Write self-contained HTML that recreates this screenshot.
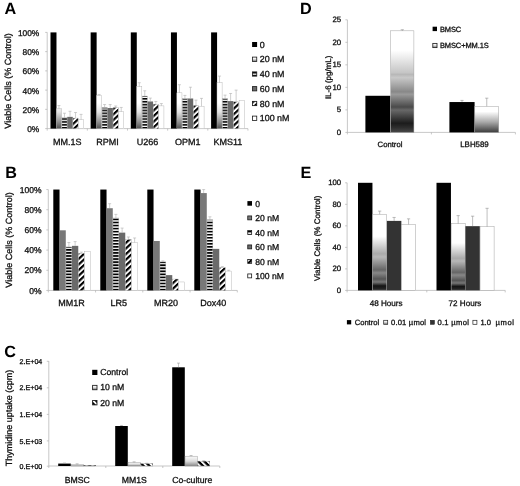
<!DOCTYPE html>
<html><head><meta charset="utf-8"><title>Figure</title>
<style>
html,body{margin:0;padding:0;background:#fff;}
body{width:520px;height:486px;overflow:hidden;}
svg{display:block;filter:blur(0.4px);font-family:'Liberation Sans', sans-serif;}
</style></head>
<body>
<svg width="520" height="486" viewBox="0 0 520 486" style="font-family:'Liberation Sans',sans-serif" text-rendering="geometricPrecision">
<rect width="520" height="486" fill="#fff"/>
<defs>
<pattern id="hs" width="6" height="2.9" patternUnits="userSpaceOnUse" patternTransform="translate(0 2.3)"><rect width="6" height="2.9" fill="#fff"/><rect y="0" width="6" height="1.6" fill="#000"/></pattern>
<pattern id="hsB" width="6" height="3.05" patternUnits="userSpaceOnUse" patternTransform="translate(0 2.05)"><rect width="6" height="3.05" fill="#fff"/><rect y="0" width="6" height="1.7" fill="#000"/></pattern>
<pattern id="ds" width="4.1" height="4.1" patternUnits="userSpaceOnUse" patternTransform="rotate(-43)"><rect width="4.1" height="4.1" fill="#fff"/><rect y="0" width="4.1" height="2.15" fill="#000"/></pattern>
<pattern id="dsC" width="4.2" height="4.2" patternUnits="userSpaceOnUse" patternTransform="rotate(45)"><rect width="4.2" height="4.2" fill="#fff"/><rect y="0" width="4.2" height="2.3" fill="#000"/></pattern>
<linearGradient id="gA" gradientUnits="userSpaceOnUse" x1="0" y1="103" x2="0" y2="128.6"><stop offset="0" stop-color="#fff"/><stop offset="0.35" stop-color="#e2e2e2"/><stop offset="0.7" stop-color="#9a9a9a"/><stop offset="1" stop-color="#505050"/></linearGradient>
<linearGradient id="gD1" x1="0" y1="0" x2="0" y2="1">
<stop offset="0" stop-color="#fff"/><stop offset="0.19" stop-color="#fff"/><stop offset="0.41" stop-color="#c6c6c6"/><stop offset="0.43" stop-color="#b8b8b8"/><stop offset="0.46" stop-color="#c8c8c8"/><stop offset="0.60" stop-color="#888"/><stop offset="0.625" stop-color="#9a9a9a"/><stop offset="0.75" stop-color="#4a4a4a"/><stop offset="0.78" stop-color="#686868"/><stop offset="0.91" stop-color="#1c1c1c"/><stop offset="0.95" stop-color="#2c2c2c"/><stop offset="1" stop-color="#484848"/></linearGradient>
<linearGradient id="gD2" x1="0" y1="0" x2="0" y2="1"><stop offset="0" stop-color="#fff"/><stop offset="0.2" stop-color="#fff"/><stop offset="0.6" stop-color="#aaa"/><stop offset="1" stop-color="#3c3c3c"/></linearGradient>
<linearGradient id="gE" x1="0" y1="0" x2="0" y2="1">
<stop offset="0" stop-color="#fff"/><stop offset="0.29" stop-color="#fff"/><stop offset="0.52" stop-color="#aaa"/><stop offset="0.56" stop-color="#b8b8b8"/><stop offset="0.73" stop-color="#666"/><stop offset="0.77" stop-color="#888"/><stop offset="0.85" stop-color="#555"/><stop offset="0.89" stop-color="#777"/><stop offset="0.94" stop-color="#141414"/><stop offset="0.975" stop-color="#222"/><stop offset="1" stop-color="#444"/></linearGradient>
<linearGradient id="gL" x1="0" y1="0" x2="0" y2="1"><stop offset="0" stop-color="#fff"/><stop offset="0.4" stop-color="#eee"/><stop offset="1" stop-color="#777"/></linearGradient>
<linearGradient id="gC" x1="0" y1="0" x2="0" y2="1"><stop offset="0" stop-color="#fbfbfb"/><stop offset="0.5" stop-color="#ddd"/><stop offset="1" stop-color="#8a8a8a"/></linearGradient>
</defs>
<text x="4.4" y="14.2" font-size="16.2" text-anchor="start" font-weight="bold" fill="#000" stroke="#000" stroke-width="0" >A</text>
<line x1="47.20" y1="32.40" x2="47.20" y2="128.60" stroke="#b0b0b0" stroke-width="0.7"/>
<line x1="47.20" y1="128.60" x2="247.95" y2="128.60" stroke="#b0b0b0" stroke-width="0.7"/>
<line x1="45.20" y1="128.60" x2="47.20" y2="128.60" stroke="#b0b0b0" stroke-width="0.7"/>
<text x="39.3" y="132.1" font-size="8.4" text-anchor="end" font-weight="normal" fill="#111" stroke="#111" stroke-width="0.3" >0%</text>
<line x1="45.20" y1="109.36" x2="47.20" y2="109.36" stroke="#b0b0b0" stroke-width="0.7"/>
<text x="39.3" y="112.86" font-size="8.4" text-anchor="end" font-weight="normal" fill="#111" stroke="#111" stroke-width="0.3" >20%</text>
<line x1="45.20" y1="90.12" x2="47.20" y2="90.12" stroke="#b0b0b0" stroke-width="0.7"/>
<text x="39.3" y="93.62" font-size="8.4" text-anchor="end" font-weight="normal" fill="#111" stroke="#111" stroke-width="0.3" >40%</text>
<line x1="45.20" y1="70.88" x2="47.20" y2="70.88" stroke="#b0b0b0" stroke-width="0.7"/>
<text x="39.3" y="74.38" font-size="8.4" text-anchor="end" font-weight="normal" fill="#111" stroke="#111" stroke-width="0.3" >60%</text>
<line x1="45.20" y1="51.64" x2="47.20" y2="51.64" stroke="#b0b0b0" stroke-width="0.7"/>
<text x="39.3" y="55.14" font-size="8.4" text-anchor="end" font-weight="normal" fill="#111" stroke="#111" stroke-width="0.3" >80%</text>
<line x1="45.20" y1="32.40" x2="47.20" y2="32.40" stroke="#b0b0b0" stroke-width="0.7"/>
<text x="39.3" y="35.900000000000006" font-size="8.4" text-anchor="end" font-weight="normal" fill="#111" stroke="#111" stroke-width="0.3" >100%</text>
<line x1="47.20" y1="128.60" x2="47.20" y2="130.60" stroke="#b0b0b0" stroke-width="0.7"/>
<line x1="87.35" y1="128.60" x2="87.35" y2="130.60" stroke="#b0b0b0" stroke-width="0.7"/>
<line x1="127.50" y1="128.60" x2="127.50" y2="130.60" stroke="#b0b0b0" stroke-width="0.7"/>
<line x1="167.65" y1="128.60" x2="167.65" y2="130.60" stroke="#b0b0b0" stroke-width="0.7"/>
<line x1="207.80" y1="128.60" x2="207.80" y2="130.60" stroke="#b0b0b0" stroke-width="0.7"/>
<line x1="247.95" y1="128.60" x2="247.95" y2="130.60" stroke="#b0b0b0" stroke-width="0.7"/>
<text x="11.0" y="81" font-size="9" text-anchor="middle" font-weight="normal" fill="#111" stroke="#111" stroke-width="0.3" transform="rotate(-90 11.0 81)" >Viable Cells (% Control)</text>
<rect x="50.50" y="32.40" width="5.98" height="96.20" fill="#000"/>
<rect x="56.38" y="108.78" width="5.13" height="19.82" fill="url(#gA)" stroke="#aaa" stroke-width="0.4"/>
<line x1="58.95" y1="108.78" x2="58.95" y2="105.51" stroke="#a8a8a8" stroke-width="0.55"/>
<line x1="57.45" y1="105.51" x2="60.45" y2="105.51" stroke="#a8a8a8" stroke-width="0.55"/>
<rect x="61.91" y="117.73" width="5.13" height="10.87" fill="url(#hs)" stroke="#aaa" stroke-width="0.4"/>
<line x1="64.48" y1="117.73" x2="64.48" y2="113.21" stroke="#a8a8a8" stroke-width="0.55"/>
<line x1="62.98" y1="113.21" x2="65.98" y2="113.21" stroke="#a8a8a8" stroke-width="0.55"/>
<rect x="67.24" y="116.86" width="5.53" height="11.74" fill="#6a6a6a"/>
<line x1="70.01" y1="116.86" x2="70.01" y2="111.28" stroke="#a8a8a8" stroke-width="0.55"/>
<line x1="68.51" y1="111.28" x2="71.51" y2="111.28" stroke="#a8a8a8" stroke-width="0.55"/>
<rect x="72.97" y="118.11" width="5.13" height="10.49" fill="url(#ds)" stroke="#aaa" stroke-width="0.4"/>
<line x1="75.54" y1="118.11" x2="75.54" y2="112.53" stroke="#a8a8a8" stroke-width="0.55"/>
<line x1="74.04" y1="112.53" x2="77.04" y2="112.53" stroke="#a8a8a8" stroke-width="0.55"/>
<rect x="78.50" y="119.75" width="5.13" height="8.85" fill="#fff" stroke="#aaa" stroke-width="0.4"/>
<line x1="81.07" y1="119.75" x2="81.07" y2="114.36" stroke="#a8a8a8" stroke-width="0.55"/>
<line x1="79.57" y1="114.36" x2="82.57" y2="114.36" stroke="#a8a8a8" stroke-width="0.55"/>
<text x="67.275" y="145.3" font-size="9" text-anchor="middle" font-weight="normal" fill="#111" stroke="#111" stroke-width="0.3" >MM.1S</text>
<rect x="90.65" y="32.40" width="5.98" height="96.20" fill="#000"/>
<rect x="96.53" y="95.51" width="5.13" height="33.09" fill="url(#gA)" stroke="#aaa" stroke-width="0.4"/>
<line x1="99.09" y1="95.51" x2="99.09" y2="94.45" stroke="#a8a8a8" stroke-width="0.55"/>
<line x1="97.59" y1="94.45" x2="100.59" y2="94.45" stroke="#a8a8a8" stroke-width="0.55"/>
<rect x="102.06" y="107.63" width="5.13" height="20.97" fill="url(#hs)" stroke="#aaa" stroke-width="0.4"/>
<line x1="104.62" y1="107.63" x2="104.62" y2="104.55" stroke="#a8a8a8" stroke-width="0.55"/>
<line x1="103.12" y1="104.55" x2="106.12" y2="104.55" stroke="#a8a8a8" stroke-width="0.55"/>
<rect x="107.39" y="108.01" width="5.53" height="20.59" fill="#6a6a6a"/>
<line x1="110.16" y1="108.01" x2="110.16" y2="104.55" stroke="#a8a8a8" stroke-width="0.55"/>
<line x1="108.66" y1="104.55" x2="111.66" y2="104.55" stroke="#a8a8a8" stroke-width="0.55"/>
<rect x="113.12" y="107.63" width="5.13" height="20.97" fill="url(#ds)" stroke="#aaa" stroke-width="0.4"/>
<line x1="115.69" y1="107.63" x2="115.69" y2="105.99" stroke="#a8a8a8" stroke-width="0.55"/>
<line x1="114.19" y1="105.99" x2="117.19" y2="105.99" stroke="#a8a8a8" stroke-width="0.55"/>
<rect x="118.65" y="111.77" width="5.13" height="16.83" fill="#fff" stroke="#aaa" stroke-width="0.4"/>
<line x1="121.22" y1="111.77" x2="121.22" y2="107.44" stroke="#a8a8a8" stroke-width="0.55"/>
<line x1="119.72" y1="107.44" x2="122.72" y2="107.44" stroke="#a8a8a8" stroke-width="0.55"/>
<text x="107.425" y="145.3" font-size="9" text-anchor="middle" font-weight="normal" fill="#111" stroke="#111" stroke-width="0.3" >RPMI</text>
<rect x="130.80" y="32.40" width="5.98" height="96.20" fill="#000"/>
<rect x="136.68" y="86.75" width="5.13" height="41.85" fill="url(#gA)" stroke="#aaa" stroke-width="0.4"/>
<line x1="139.24" y1="86.75" x2="139.24" y2="82.71" stroke="#a8a8a8" stroke-width="0.55"/>
<line x1="137.74" y1="82.71" x2="140.74" y2="82.71" stroke="#a8a8a8" stroke-width="0.55"/>
<rect x="142.21" y="96.08" width="5.13" height="32.52" fill="url(#hs)" stroke="#aaa" stroke-width="0.4"/>
<line x1="144.77" y1="96.08" x2="144.77" y2="90.79" stroke="#a8a8a8" stroke-width="0.55"/>
<line x1="143.27" y1="90.79" x2="146.27" y2="90.79" stroke="#a8a8a8" stroke-width="0.55"/>
<rect x="147.54" y="101.47" width="5.53" height="27.13" fill="#6a6a6a"/>
<line x1="150.30" y1="101.47" x2="150.30" y2="98.10" stroke="#a8a8a8" stroke-width="0.55"/>
<line x1="148.80" y1="98.10" x2="151.80" y2="98.10" stroke="#a8a8a8" stroke-width="0.55"/>
<rect x="153.27" y="104.17" width="5.13" height="24.43" fill="url(#ds)" stroke="#aaa" stroke-width="0.4"/>
<line x1="155.83" y1="104.17" x2="155.83" y2="101.47" stroke="#a8a8a8" stroke-width="0.55"/>
<line x1="154.33" y1="101.47" x2="157.33" y2="101.47" stroke="#a8a8a8" stroke-width="0.55"/>
<rect x="158.80" y="105.90" width="5.13" height="22.70" fill="#fff" stroke="#aaa" stroke-width="0.4"/>
<line x1="161.36" y1="105.90" x2="161.36" y2="103.59" stroke="#a8a8a8" stroke-width="0.55"/>
<line x1="159.86" y1="103.59" x2="162.86" y2="103.59" stroke="#a8a8a8" stroke-width="0.55"/>
<text x="147.575" y="145.3" font-size="9" text-anchor="middle" font-weight="normal" fill="#111" stroke="#111" stroke-width="0.3" >U266</text>
<rect x="170.95" y="32.40" width="5.98" height="96.20" fill="#000"/>
<rect x="176.83" y="92.81" width="5.13" height="35.79" fill="url(#gA)" stroke="#aaa" stroke-width="0.4"/>
<line x1="179.39" y1="92.81" x2="179.39" y2="84.73" stroke="#a8a8a8" stroke-width="0.55"/>
<line x1="177.89" y1="84.73" x2="180.89" y2="84.73" stroke="#a8a8a8" stroke-width="0.55"/>
<rect x="182.36" y="98.78" width="5.13" height="29.82" fill="url(#hs)" stroke="#aaa" stroke-width="0.4"/>
<line x1="184.92" y1="98.78" x2="184.92" y2="95.41" stroke="#a8a8a8" stroke-width="0.55"/>
<line x1="183.42" y1="95.41" x2="186.42" y2="95.41" stroke="#a8a8a8" stroke-width="0.55"/>
<rect x="187.69" y="98.49" width="5.53" height="30.11" fill="#6a6a6a"/>
<line x1="190.45" y1="98.49" x2="190.45" y2="87.23" stroke="#a8a8a8" stroke-width="0.55"/>
<line x1="188.95" y1="87.23" x2="191.95" y2="87.23" stroke="#a8a8a8" stroke-width="0.55"/>
<rect x="193.42" y="105.51" width="5.13" height="23.09" fill="url(#ds)" stroke="#aaa" stroke-width="0.4"/>
<line x1="195.98" y1="105.51" x2="195.98" y2="100.12" stroke="#a8a8a8" stroke-width="0.55"/>
<line x1="194.48" y1="100.12" x2="197.48" y2="100.12" stroke="#a8a8a8" stroke-width="0.55"/>
<rect x="198.95" y="106.19" width="5.13" height="22.41" fill="#fff" stroke="#aaa" stroke-width="0.4"/>
<line x1="201.51" y1="106.19" x2="201.51" y2="98.39" stroke="#a8a8a8" stroke-width="0.55"/>
<line x1="200.01" y1="98.39" x2="203.01" y2="98.39" stroke="#a8a8a8" stroke-width="0.55"/>
<text x="187.72499999999997" y="145.3" font-size="9" text-anchor="middle" font-weight="normal" fill="#111" stroke="#111" stroke-width="0.3" >OPM1</text>
<rect x="211.10" y="32.40" width="5.98" height="96.20" fill="#000"/>
<rect x="216.98" y="82.71" width="5.13" height="45.89" fill="url(#gA)" stroke="#aaa" stroke-width="0.4"/>
<line x1="219.54" y1="82.71" x2="219.54" y2="76.07" stroke="#a8a8a8" stroke-width="0.55"/>
<line x1="218.04" y1="76.07" x2="221.04" y2="76.07" stroke="#a8a8a8" stroke-width="0.55"/>
<rect x="222.51" y="98.78" width="5.13" height="29.82" fill="url(#hs)" stroke="#aaa" stroke-width="0.4"/>
<line x1="225.07" y1="98.78" x2="225.07" y2="95.12" stroke="#a8a8a8" stroke-width="0.55"/>
<line x1="223.57" y1="95.12" x2="226.57" y2="95.12" stroke="#a8a8a8" stroke-width="0.55"/>
<rect x="227.84" y="101.09" width="5.53" height="27.51" fill="#6a6a6a"/>
<line x1="230.60" y1="101.09" x2="230.60" y2="93.49" stroke="#a8a8a8" stroke-width="0.55"/>
<line x1="229.10" y1="93.49" x2="232.10" y2="93.49" stroke="#a8a8a8" stroke-width="0.55"/>
<rect x="233.57" y="101.86" width="5.13" height="26.74" fill="url(#ds)" stroke="#aaa" stroke-width="0.4"/>
<line x1="236.13" y1="101.86" x2="236.13" y2="90.12" stroke="#a8a8a8" stroke-width="0.55"/>
<line x1="234.63" y1="90.12" x2="237.63" y2="90.12" stroke="#a8a8a8" stroke-width="0.55"/>
<rect x="239.10" y="100.51" width="5.13" height="28.09" fill="#fff" stroke="#aaa" stroke-width="0.4"/>
<text x="227.875" y="145.3" font-size="9" text-anchor="middle" font-weight="normal" fill="#111" stroke="#111" stroke-width="0.3" >KMS11</text>
<rect x="252.10" y="42.00" width="5.00" height="5.00" fill="#000"/>
<text x="259.8" y="47.65" font-size="8.9" text-anchor="start" font-weight="normal" fill="#111" stroke="#111" stroke-width="0.3" >0</text>
<rect x="252.45" y="57.10" width="4.30" height="4.30" fill="url(#gL)" stroke="#1a1a1a" stroke-width="0.8"/>
<text x="259.8" y="62.4" font-size="8.9" text-anchor="start" font-weight="normal" fill="#111" stroke="#111" stroke-width="0.3" >20 nM</text>
<rect x="252.45" y="71.85" width="4.30" height="4.30" fill="url(#hs)" stroke="#1a1a1a" stroke-width="0.8"/>
<text x="259.8" y="77.15" font-size="8.9" text-anchor="start" font-weight="normal" fill="#111" stroke="#111" stroke-width="0.3" >40 nM</text>
<rect x="252.45" y="86.60" width="4.30" height="4.30" fill="#6a6a6a" stroke="#1a1a1a" stroke-width="0.8"/>
<text x="259.8" y="91.9" font-size="8.9" text-anchor="start" font-weight="normal" fill="#111" stroke="#111" stroke-width="0.3" >60 nM</text>
<rect x="252.45" y="101.35" width="4.30" height="4.30" fill="url(#ds)" stroke="#1a1a1a" stroke-width="0.8"/>
<text x="259.8" y="106.65" font-size="8.9" text-anchor="start" font-weight="normal" fill="#111" stroke="#111" stroke-width="0.3" >80 nM</text>
<rect x="252.45" y="116.10" width="4.30" height="4.30" fill="#fff" stroke="#1a1a1a" stroke-width="0.8"/>
<text x="259.8" y="121.4" font-size="8.9" text-anchor="start" font-weight="normal" fill="#111" stroke="#111" stroke-width="0.3" >100 nM</text>
<text x="5.2" y="177.7" font-size="16.2" text-anchor="start" font-weight="bold" fill="#000" stroke="#000" stroke-width="0" >B</text>
<line x1="48.30" y1="189.55" x2="48.30" y2="290.45" stroke="#b0b0b0" stroke-width="0.7"/>
<line x1="48.30" y1="290.45" x2="237.30" y2="290.45" stroke="#b0b0b0" stroke-width="0.7"/>
<line x1="46.30" y1="290.45" x2="48.30" y2="290.45" stroke="#b0b0b0" stroke-width="0.7"/>
<text x="41.6" y="293.5" font-size="8.5" text-anchor="end" font-weight="normal" fill="#111" stroke="#111" stroke-width="0.3" >0%</text>
<line x1="46.30" y1="270.27" x2="48.30" y2="270.27" stroke="#b0b0b0" stroke-width="0.7"/>
<text x="41.6" y="273.32" font-size="8.5" text-anchor="end" font-weight="normal" fill="#111" stroke="#111" stroke-width="0.3" >20%</text>
<line x1="46.30" y1="250.09" x2="48.30" y2="250.09" stroke="#b0b0b0" stroke-width="0.7"/>
<text x="41.6" y="253.14000000000001" font-size="8.5" text-anchor="end" font-weight="normal" fill="#111" stroke="#111" stroke-width="0.3" >40%</text>
<line x1="46.30" y1="229.91" x2="48.30" y2="229.91" stroke="#b0b0b0" stroke-width="0.7"/>
<text x="41.6" y="232.96000000000004" font-size="8.5" text-anchor="end" font-weight="normal" fill="#111" stroke="#111" stroke-width="0.3" >60%</text>
<line x1="46.30" y1="209.73" x2="48.30" y2="209.73" stroke="#b0b0b0" stroke-width="0.7"/>
<text x="41.6" y="212.78000000000003" font-size="8.5" text-anchor="end" font-weight="normal" fill="#111" stroke="#111" stroke-width="0.3" >80%</text>
<line x1="46.30" y1="189.55" x2="48.30" y2="189.55" stroke="#b0b0b0" stroke-width="0.7"/>
<text x="41.6" y="192.60000000000002" font-size="8.5" text-anchor="end" font-weight="normal" fill="#111" stroke="#111" stroke-width="0.3" >100%</text>
<line x1="48.30" y1="290.45" x2="48.30" y2="292.45" stroke="#b0b0b0" stroke-width="0.7"/>
<line x1="95.55" y1="290.45" x2="95.55" y2="292.45" stroke="#b0b0b0" stroke-width="0.7"/>
<line x1="142.80" y1="290.45" x2="142.80" y2="292.45" stroke="#b0b0b0" stroke-width="0.7"/>
<line x1="190.05" y1="290.45" x2="190.05" y2="292.45" stroke="#b0b0b0" stroke-width="0.7"/>
<line x1="237.30" y1="290.45" x2="237.30" y2="292.45" stroke="#b0b0b0" stroke-width="0.7"/>
<text x="11.7" y="240" font-size="9" text-anchor="middle" font-weight="normal" fill="#111" stroke="#111" stroke-width="0.3" transform="rotate(-90 11.7 240)" >Viable Cells (% Control)</text>
<rect x="53.30" y="189.55" width="6.24" height="100.90" fill="#000"/>
<rect x="59.54" y="230.31" width="6.24" height="60.14" fill="#787878"/>
<rect x="65.98" y="246.96" width="5.84" height="43.49" fill="url(#hsB)" stroke="#aaa" stroke-width="0.4"/>
<line x1="68.90" y1="246.96" x2="68.90" y2="242.52" stroke="#a8a8a8" stroke-width="0.55"/>
<line x1="67.40" y1="242.52" x2="70.40" y2="242.52" stroke="#a8a8a8" stroke-width="0.55"/>
<rect x="72.02" y="245.85" width="6.24" height="44.60" fill="#6a6a6a"/>
<line x1="75.14" y1="245.85" x2="75.14" y2="241.61" stroke="#a8a8a8" stroke-width="0.55"/>
<line x1="73.64" y1="241.61" x2="76.64" y2="241.61" stroke="#a8a8a8" stroke-width="0.55"/>
<rect x="78.46" y="253.32" width="5.84" height="37.13" fill="url(#ds)" stroke="#aaa" stroke-width="0.4"/>
<line x1="81.38" y1="253.32" x2="81.38" y2="252.11" stroke="#a8a8a8" stroke-width="0.55"/>
<line x1="79.88" y1="252.11" x2="82.88" y2="252.11" stroke="#a8a8a8" stroke-width="0.55"/>
<rect x="84.70" y="251.30" width="5.84" height="39.15" fill="#fff" stroke="#aaa" stroke-width="0.4"/>
<text x="71.425" y="306.2" font-size="9.0" text-anchor="middle" font-weight="normal" fill="#111" stroke="#111" stroke-width="0.3" >MM1R</text>
<rect x="100.30" y="189.55" width="6.24" height="100.90" fill="#000"/>
<rect x="106.54" y="208.22" width="6.24" height="82.23" fill="#787878"/>
<line x1="109.66" y1="208.22" x2="109.66" y2="203.68" stroke="#a8a8a8" stroke-width="0.55"/>
<line x1="108.16" y1="203.68" x2="111.16" y2="203.68" stroke="#a8a8a8" stroke-width="0.55"/>
<rect x="112.98" y="218.00" width="5.84" height="72.45" fill="url(#hsB)" stroke="#aaa" stroke-width="0.4"/>
<line x1="115.90" y1="218.00" x2="115.90" y2="214.37" stroke="#a8a8a8" stroke-width="0.55"/>
<line x1="114.40" y1="214.37" x2="117.40" y2="214.37" stroke="#a8a8a8" stroke-width="0.55"/>
<rect x="119.02" y="232.63" width="6.24" height="57.82" fill="#6a6a6a"/>
<line x1="122.14" y1="232.63" x2="122.14" y2="228.09" stroke="#a8a8a8" stroke-width="0.55"/>
<line x1="120.64" y1="228.09" x2="123.64" y2="228.09" stroke="#a8a8a8" stroke-width="0.55"/>
<rect x="125.46" y="239.50" width="5.84" height="50.95" fill="url(#ds)" stroke="#aaa" stroke-width="0.4"/>
<line x1="128.38" y1="239.50" x2="128.38" y2="236.97" stroke="#a8a8a8" stroke-width="0.55"/>
<line x1="126.88" y1="236.97" x2="129.88" y2="236.97" stroke="#a8a8a8" stroke-width="0.55"/>
<rect x="131.70" y="242.52" width="5.84" height="47.93" fill="#fff" stroke="#aaa" stroke-width="0.4"/>
<line x1="134.62" y1="242.52" x2="134.62" y2="237.98" stroke="#a8a8a8" stroke-width="0.55"/>
<line x1="133.12" y1="237.98" x2="136.12" y2="237.98" stroke="#a8a8a8" stroke-width="0.55"/>
<text x="118.675" y="306.2" font-size="9.0" text-anchor="middle" font-weight="normal" fill="#111" stroke="#111" stroke-width="0.3" >LR5</text>
<rect x="147.30" y="189.55" width="6.24" height="100.90" fill="#000"/>
<rect x="153.54" y="241.01" width="6.24" height="49.44" fill="#787878"/>
<rect x="159.98" y="261.90" width="5.84" height="28.55" fill="url(#hsB)" stroke="#aaa" stroke-width="0.4"/>
<line x1="162.90" y1="261.90" x2="162.90" y2="260.89" stroke="#a8a8a8" stroke-width="0.55"/>
<line x1="161.40" y1="260.89" x2="164.40" y2="260.89" stroke="#a8a8a8" stroke-width="0.55"/>
<rect x="166.02" y="275.11" width="6.24" height="15.34" fill="#6a6a6a"/>
<rect x="172.46" y="279.05" width="5.84" height="11.40" fill="url(#ds)" stroke="#aaa" stroke-width="0.4"/>
<rect x="178.70" y="281.97" width="5.84" height="8.48" fill="#fff" stroke="#aaa" stroke-width="0.4"/>
<text x="165.925" y="306.2" font-size="9.0" text-anchor="middle" font-weight="normal" fill="#111" stroke="#111" stroke-width="0.3" >MR20</text>
<rect x="194.30" y="189.55" width="6.24" height="100.90" fill="#000"/>
<rect x="200.54" y="193.08" width="6.24" height="97.37" fill="#787878"/>
<line x1="203.66" y1="193.08" x2="203.66" y2="189.55" stroke="#a8a8a8" stroke-width="0.55"/>
<line x1="202.16" y1="189.55" x2="205.16" y2="189.55" stroke="#a8a8a8" stroke-width="0.55"/>
<rect x="206.98" y="219.82" width="5.84" height="70.63" fill="url(#hsB)" stroke="#aaa" stroke-width="0.4"/>
<line x1="209.90" y1="219.82" x2="209.90" y2="216.79" stroke="#a8a8a8" stroke-width="0.55"/>
<line x1="208.40" y1="216.79" x2="211.40" y2="216.79" stroke="#a8a8a8" stroke-width="0.55"/>
<rect x="213.02" y="248.88" width="6.24" height="41.57" fill="#6a6a6a"/>
<rect x="219.46" y="267.65" width="5.84" height="22.80" fill="url(#ds)" stroke="#aaa" stroke-width="0.4"/>
<line x1="222.38" y1="267.65" x2="222.38" y2="266.64" stroke="#a8a8a8" stroke-width="0.55"/>
<line x1="220.88" y1="266.64" x2="223.88" y2="266.64" stroke="#a8a8a8" stroke-width="0.55"/>
<rect x="225.70" y="271.08" width="5.84" height="19.37" fill="#fff" stroke="#aaa" stroke-width="0.4"/>
<line x1="228.62" y1="271.08" x2="228.62" y2="270.27" stroke="#a8a8a8" stroke-width="0.55"/>
<line x1="227.12" y1="270.27" x2="230.12" y2="270.27" stroke="#a8a8a8" stroke-width="0.55"/>
<text x="213.175" y="306.2" font-size="9.0" text-anchor="middle" font-weight="normal" fill="#111" stroke="#111" stroke-width="0.3" >Dox40</text>
<rect x="247.40" y="201.10" width="4.60" height="4.60" fill="#000"/>
<text x="255.3" y="206.5" font-size="8.6" text-anchor="start" font-weight="normal" fill="#111" stroke="#111" stroke-width="0.3" >0</text>
<rect x="247.75" y="215.95" width="3.90" height="3.90" fill="#787878" stroke="#1a1a1a" stroke-width="0.8"/>
<text x="255.3" y="221.0" font-size="8.6" text-anchor="start" font-weight="normal" fill="#111" stroke="#111" stroke-width="0.3" >20 nM</text>
<rect x="247.75" y="230.45" width="3.90" height="3.90" fill="url(#hsB)" stroke="#1a1a1a" stroke-width="0.8"/>
<text x="255.3" y="235.5" font-size="8.6" text-anchor="start" font-weight="normal" fill="#111" stroke="#111" stroke-width="0.3" >40 nM</text>
<rect x="247.75" y="244.95" width="3.90" height="3.90" fill="#6a6a6a" stroke="#1a1a1a" stroke-width="0.8"/>
<text x="255.3" y="250.0" font-size="8.6" text-anchor="start" font-weight="normal" fill="#111" stroke="#111" stroke-width="0.3" >60 nM</text>
<rect x="247.75" y="259.45" width="3.90" height="3.90" fill="url(#ds)" stroke="#1a1a1a" stroke-width="0.8"/>
<text x="255.3" y="264.5" font-size="8.6" text-anchor="start" font-weight="normal" fill="#111" stroke="#111" stroke-width="0.3" >80 nM</text>
<rect x="247.75" y="273.95" width="3.90" height="3.90" fill="#fff" stroke="#1a1a1a" stroke-width="0.8"/>
<text x="255.3" y="279.0" font-size="8.6" text-anchor="start" font-weight="normal" fill="#111" stroke="#111" stroke-width="0.3" >100 nM</text>
<text x="4.2" y="356.5" font-size="16.2" text-anchor="start" font-weight="bold" fill="#000" stroke="#000" stroke-width="0" >C</text>
<line x1="48.80" y1="361.00" x2="48.80" y2="466.00" stroke="#b0b0b0" stroke-width="0.7"/>
<line x1="48.80" y1="466.00" x2="219.80" y2="466.00" stroke="#b0b0b0" stroke-width="0.7"/>
<line x1="46.80" y1="466.20" x2="48.80" y2="466.20" stroke="#b0b0b0" stroke-width="0.7"/>
<text x="42.3" y="468.8" font-size="7.1" text-anchor="end" font-weight="normal" fill="#111" stroke="#111" stroke-width="0.3" >0.E+00</text>
<line x1="46.80" y1="440.90" x2="48.80" y2="440.90" stroke="#b0b0b0" stroke-width="0.7"/>
<text x="42.3" y="443.5" font-size="7.1" text-anchor="end" font-weight="normal" fill="#111" stroke="#111" stroke-width="0.3" >5.E+03</text>
<line x1="46.80" y1="414.40" x2="48.80" y2="414.40" stroke="#b0b0b0" stroke-width="0.7"/>
<text x="42.3" y="417.0" font-size="7.1" text-anchor="end" font-weight="normal" fill="#111" stroke="#111" stroke-width="0.3" >1.E+04</text>
<line x1="46.80" y1="387.80" x2="48.80" y2="387.80" stroke="#b0b0b0" stroke-width="0.7"/>
<text x="42.3" y="390.40000000000003" font-size="7.1" text-anchor="end" font-weight="normal" fill="#111" stroke="#111" stroke-width="0.3" >2.E+04</text>
<line x1="46.80" y1="361.30" x2="48.80" y2="361.30" stroke="#b0b0b0" stroke-width="0.7"/>
<text x="42.3" y="363.90000000000003" font-size="7.1" text-anchor="end" font-weight="normal" fill="#111" stroke="#111" stroke-width="0.3" >2.E+04</text>
<line x1="48.80" y1="466.00" x2="48.80" y2="468.00" stroke="#b0b0b0" stroke-width="0.7"/>
<line x1="105.80" y1="466.00" x2="105.80" y2="468.00" stroke="#b0b0b0" stroke-width="0.7"/>
<line x1="162.80" y1="466.00" x2="162.80" y2="468.00" stroke="#b0b0b0" stroke-width="0.7"/>
<line x1="219.80" y1="466.00" x2="219.80" y2="468.00" stroke="#b0b0b0" stroke-width="0.7"/>
<text x="12.2" y="418" font-size="9" text-anchor="middle" font-weight="normal" fill="#111" stroke="#111" stroke-width="0.3" transform="rotate(-90 12.2 418)" >Thymidine uptake (cpm)</text>
<rect x="58.20" y="463.58" width="12.60" height="2.42" fill="#000"/>
<line x1="64.50" y1="463.58" x2="64.50" y2="463.06" stroke="#999" stroke-width="0.55"/>
<line x1="63.00" y1="463.06" x2="66.00" y2="463.06" stroke="#999" stroke-width="0.55"/>
<rect x="71.00" y="464.43" width="12.20" height="1.57" fill="url(#gC)" stroke="#888" stroke-width="0.4"/>
<line x1="77.10" y1="464.43" x2="77.10" y2="463.80" stroke="#999" stroke-width="0.55"/>
<line x1="75.60" y1="463.80" x2="78.60" y2="463.80" stroke="#999" stroke-width="0.55"/>
<rect x="83.60" y="465.21" width="12.20" height="0.79" fill="url(#dsC)" stroke="#888" stroke-width="0.4"/>
<text x="77.3" y="483.4" font-size="8.7" text-anchor="middle" font-weight="normal" fill="#111" stroke="#111" stroke-width="0.3" >BMSC</text>
<rect x="115.20" y="426.00" width="12.60" height="40.00" fill="#000"/>
<line x1="121.50" y1="426.00" x2="121.50" y2="425.47" stroke="#999" stroke-width="0.55"/>
<line x1="120.00" y1="425.47" x2="123.00" y2="425.47" stroke="#999" stroke-width="0.55"/>
<rect x="128.00" y="462.43" width="12.20" height="3.57" fill="url(#gC)" stroke="#888" stroke-width="0.4"/>
<line x1="134.10" y1="462.43" x2="134.10" y2="461.80" stroke="#999" stroke-width="0.55"/>
<line x1="132.60" y1="461.80" x2="135.60" y2="461.80" stroke="#999" stroke-width="0.55"/>
<rect x="140.60" y="463.69" width="12.20" height="2.31" fill="url(#dsC)" stroke="#888" stroke-width="0.4"/>
<line x1="146.70" y1="463.69" x2="146.70" y2="463.27" stroke="#999" stroke-width="0.55"/>
<line x1="145.20" y1="463.27" x2="148.20" y2="463.27" stroke="#999" stroke-width="0.55"/>
<text x="134.3" y="483.4" font-size="8.7" text-anchor="middle" font-weight="normal" fill="#111" stroke="#111" stroke-width="0.3" >MM1S</text>
<rect x="172.20" y="367.30" width="12.60" height="98.70" fill="#000"/>
<line x1="178.50" y1="367.30" x2="178.50" y2="363.10" stroke="#999" stroke-width="0.55"/>
<line x1="177.00" y1="363.10" x2="180.00" y2="363.10" stroke="#999" stroke-width="0.55"/>
<rect x="185.00" y="456.18" width="12.20" height="9.82" fill="url(#gC)" stroke="#888" stroke-width="0.4"/>
<line x1="191.10" y1="456.18" x2="191.10" y2="455.50" stroke="#999" stroke-width="0.55"/>
<line x1="189.60" y1="455.50" x2="192.60" y2="455.50" stroke="#999" stroke-width="0.55"/>
<rect x="197.60" y="461.17" width="12.20" height="4.83" fill="url(#dsC)" stroke="#888" stroke-width="0.4"/>
<line x1="203.70" y1="461.17" x2="203.70" y2="460.75" stroke="#999" stroke-width="0.55"/>
<line x1="202.20" y1="460.75" x2="205.20" y2="460.75" stroke="#999" stroke-width="0.55"/>
<text x="192.3" y="483.4" font-size="8.7" text-anchor="middle" font-weight="normal" fill="#111" stroke="#111" stroke-width="0.3" >Co-culture</text>
<rect x="92.20" y="369.80" width="5.20" height="5.20" fill="#000"/>
<text x="100.2" y="375.25" font-size="8.7" text-anchor="start" font-weight="normal" fill="#111" stroke="#111" stroke-width="0.3" >Control</text>
<rect x="92.60" y="385.35" width="4.40" height="4.40" fill="url(#gL)" stroke="#1a1a1a" stroke-width="0.85"/>
<text x="100.2" y="390.4" font-size="8.7" text-anchor="start" font-weight="normal" fill="#111" stroke="#111" stroke-width="0.3" >10 nM</text>
<rect x="92.60" y="400.50" width="4.40" height="4.40" fill="url(#dsC)" stroke="#1a1a1a" stroke-width="0.85"/>
<text x="100.2" y="405.55" font-size="8.7" text-anchor="start" font-weight="normal" fill="#111" stroke="#111" stroke-width="0.3" >20 nM</text>
<text x="300.0" y="14.1" font-size="16.2" text-anchor="start" font-weight="bold" fill="#000" stroke="#000" stroke-width="0" >D</text>
<line x1="347.40" y1="19.80" x2="347.40" y2="132.40" stroke="#b0b0b0" stroke-width="0.7"/>
<line x1="347.40" y1="132.40" x2="515.40" y2="132.40" stroke="#b0b0b0" stroke-width="0.7"/>
<line x1="345.40" y1="132.40" x2="347.40" y2="132.40" stroke="#b0b0b0" stroke-width="0.7"/>
<text x="341.2" y="134.9" font-size="7.8" text-anchor="end" font-weight="normal" fill="#111" stroke="#111" stroke-width="0.3" >0</text>
<line x1="345.40" y1="109.88" x2="347.40" y2="109.88" stroke="#b0b0b0" stroke-width="0.7"/>
<text x="341.2" y="112.38" font-size="7.8" text-anchor="end" font-weight="normal" fill="#111" stroke="#111" stroke-width="0.3" >5</text>
<line x1="345.40" y1="87.36" x2="347.40" y2="87.36" stroke="#b0b0b0" stroke-width="0.7"/>
<text x="341.2" y="89.86" font-size="7.8" text-anchor="end" font-weight="normal" fill="#111" stroke="#111" stroke-width="0.3" >10</text>
<line x1="345.40" y1="64.84" x2="347.40" y2="64.84" stroke="#b0b0b0" stroke-width="0.7"/>
<text x="341.2" y="67.34" font-size="7.8" text-anchor="end" font-weight="normal" fill="#111" stroke="#111" stroke-width="0.3" >15</text>
<line x1="345.40" y1="42.32" x2="347.40" y2="42.32" stroke="#b0b0b0" stroke-width="0.7"/>
<text x="341.2" y="44.81999999999999" font-size="7.8" text-anchor="end" font-weight="normal" fill="#111" stroke="#111" stroke-width="0.3" >20</text>
<line x1="345.40" y1="19.80" x2="347.40" y2="19.80" stroke="#b0b0b0" stroke-width="0.7"/>
<text x="341.2" y="22.299999999999997" font-size="7.8" text-anchor="end" font-weight="normal" fill="#111" stroke="#111" stroke-width="0.3" >25</text>
<line x1="347.40" y1="132.40" x2="347.40" y2="134.40" stroke="#b0b0b0" stroke-width="0.7"/>
<line x1="431.40" y1="132.40" x2="431.40" y2="134.40" stroke="#b0b0b0" stroke-width="0.7"/>
<line x1="515.40" y1="132.40" x2="515.40" y2="134.40" stroke="#b0b0b0" stroke-width="0.7"/>
<text x="331.3" y="77.3" font-size="8" text-anchor="middle" font-weight="normal" fill="#111" stroke="#111" stroke-width="0.3" transform="rotate(-90 331.3 77.3)" >IL-6 (pg/mL)</text>
<rect x="365.40" y="95.78" width="25.00" height="36.62" fill="#000"/>
<rect x="390.70" y="30.83" width="23.20" height="101.57" fill="url(#gD1)" stroke="#999" stroke-width="0.45"/>
<line x1="402.30" y1="30.83" x2="402.30" y2="29.71" stroke="#888" stroke-width="0.55"/>
<line x1="400.70" y1="29.71" x2="403.90" y2="29.71" stroke="#888" stroke-width="0.55"/>
<rect x="449.40" y="102.04" width="25.20" height="30.36" fill="#000"/>
<line x1="462.00" y1="102.04" x2="462.00" y2="100.42" stroke="#888" stroke-width="0.55"/>
<line x1="460.40" y1="100.42" x2="463.60" y2="100.42" stroke="#888" stroke-width="0.55"/>
<rect x="474.80" y="106.28" width="23.90" height="26.12" fill="url(#gD2)" stroke="#999" stroke-width="0.45"/>
<line x1="486.75" y1="106.28" x2="486.75" y2="98.17" stroke="#888" stroke-width="0.55"/>
<line x1="485.15" y1="98.17" x2="488.35" y2="98.17" stroke="#888" stroke-width="0.55"/>
<text x="390" y="147.3" font-size="7.7" text-anchor="middle" font-weight="normal" fill="#111" stroke="#111" stroke-width="0.3" >Control</text>
<text x="474.5" y="147.2" font-size="7.9" text-anchor="middle" font-weight="normal" fill="#111" stroke="#111" stroke-width="0.3" >LBH589</text>
<rect x="432.60" y="26.70" width="4.40" height="4.40" fill="#000"/>
<text x="439.9" y="31.6" font-size="7.5" text-anchor="start" font-weight="normal" fill="#111" stroke="#111" stroke-width="0.3" letter-spacing="-0.1">BMSC</text>
<rect x="432.80" y="43.40" width="4.20" height="4.20" fill="url(#gL)" stroke="#222" stroke-width="0.85"/>
<text x="439.9" y="48.2" font-size="7.5" text-anchor="start" font-weight="normal" fill="#111" stroke="#111" stroke-width="0.3" letter-spacing="-0.1">BMSC+MM.1S</text>
<text x="300.4" y="178.4" font-size="16.2" text-anchor="start" font-weight="bold" fill="#000" stroke="#000" stroke-width="0" >E</text>
<line x1="347.10" y1="182.80" x2="347.10" y2="290.40" stroke="#b0b0b0" stroke-width="0.7"/>
<line x1="347.10" y1="290.40" x2="505.20" y2="290.40" stroke="#b0b0b0" stroke-width="0.7"/>
<line x1="345.10" y1="290.40" x2="347.10" y2="290.40" stroke="#b0b0b0" stroke-width="0.7"/>
<text x="341.2" y="292.9" font-size="7.8" text-anchor="end" font-weight="normal" fill="#111" stroke="#111" stroke-width="0.3" >0</text>
<line x1="345.10" y1="268.88" x2="347.10" y2="268.88" stroke="#b0b0b0" stroke-width="0.7"/>
<text x="341.2" y="271.38" font-size="7.8" text-anchor="end" font-weight="normal" fill="#111" stroke="#111" stroke-width="0.3" >20</text>
<line x1="345.10" y1="247.36" x2="347.10" y2="247.36" stroke="#b0b0b0" stroke-width="0.7"/>
<text x="341.2" y="249.85999999999999" font-size="7.8" text-anchor="end" font-weight="normal" fill="#111" stroke="#111" stroke-width="0.3" >40</text>
<line x1="345.10" y1="225.84" x2="347.10" y2="225.84" stroke="#b0b0b0" stroke-width="0.7"/>
<text x="341.2" y="228.34" font-size="7.8" text-anchor="end" font-weight="normal" fill="#111" stroke="#111" stroke-width="0.3" >60</text>
<line x1="345.10" y1="204.32" x2="347.10" y2="204.32" stroke="#b0b0b0" stroke-width="0.7"/>
<text x="341.2" y="206.82" font-size="7.8" text-anchor="end" font-weight="normal" fill="#111" stroke="#111" stroke-width="0.3" >80</text>
<line x1="345.10" y1="182.80" x2="347.10" y2="182.80" stroke="#b0b0b0" stroke-width="0.7"/>
<text x="341.2" y="185.3" font-size="7.8" text-anchor="end" font-weight="normal" fill="#111" stroke="#111" stroke-width="0.3" >100</text>
<line x1="347.10" y1="290.40" x2="347.10" y2="292.40" stroke="#b0b0b0" stroke-width="0.7"/>
<line x1="426.80" y1="290.40" x2="426.80" y2="292.40" stroke="#b0b0b0" stroke-width="0.7"/>
<line x1="505.20" y1="290.40" x2="505.20" y2="292.40" stroke="#b0b0b0" stroke-width="0.7"/>
<text x="320.4" y="238.3" font-size="8.05" text-anchor="middle" font-weight="normal" fill="#111" stroke="#111" stroke-width="0.3" transform="rotate(-90 320.4 238.3)" >Viable Cells (% Control)</text>
<rect x="358.00" y="182.80" width="14.45" height="107.60" fill="#000"/>
<rect x="372.65" y="214.22" width="14.05" height="76.18" fill="url(#gE)" stroke="#999" stroke-width="0.45"/>
<line x1="379.68" y1="214.22" x2="379.68" y2="211.10" stroke="#888" stroke-width="0.55"/>
<line x1="378.07" y1="211.10" x2="381.28" y2="211.10" stroke="#888" stroke-width="0.55"/>
<rect x="386.90" y="220.89" width="14.45" height="69.51" fill="#333"/>
<line x1="394.12" y1="220.89" x2="394.12" y2="217.45" stroke="#888" stroke-width="0.55"/>
<line x1="392.52" y1="217.45" x2="395.73" y2="217.45" stroke="#888" stroke-width="0.55"/>
<rect x="401.55" y="224.44" width="14.05" height="65.96" fill="#fff" stroke="#999" stroke-width="0.45"/>
<line x1="408.58" y1="224.44" x2="408.58" y2="218.85" stroke="#888" stroke-width="0.55"/>
<line x1="406.98" y1="218.85" x2="410.18" y2="218.85" stroke="#888" stroke-width="0.55"/>
<rect x="436.50" y="182.80" width="14.45" height="107.60" fill="#000"/>
<rect x="451.15" y="223.58" width="14.05" height="66.82" fill="url(#gE)" stroke="#999" stroke-width="0.45"/>
<line x1="458.18" y1="223.58" x2="458.18" y2="215.62" stroke="#888" stroke-width="0.55"/>
<line x1="456.57" y1="215.62" x2="459.78" y2="215.62" stroke="#888" stroke-width="0.55"/>
<rect x="465.40" y="226.16" width="14.45" height="64.24" fill="#333"/>
<line x1="472.62" y1="226.16" x2="472.62" y2="216.16" stroke="#888" stroke-width="0.55"/>
<line x1="471.02" y1="216.16" x2="474.23" y2="216.16" stroke="#888" stroke-width="0.55"/>
<rect x="480.05" y="226.70" width="14.05" height="63.70" fill="#fff" stroke="#999" stroke-width="0.45"/>
<line x1="487.08" y1="226.70" x2="487.08" y2="208.30" stroke="#888" stroke-width="0.55"/>
<line x1="485.48" y1="208.30" x2="488.68" y2="208.30" stroke="#888" stroke-width="0.55"/>
<text x="386.2" y="305.6" font-size="8.1" text-anchor="middle" font-weight="normal" fill="#111" stroke="#111" stroke-width="0.3" >48 Hours</text>
<text x="465.0" y="305.9" font-size="8.1" text-anchor="middle" font-weight="normal" fill="#111" stroke="#111" stroke-width="0.3" >72 Hours</text>
<rect x="346.90" y="320.10" width="4.30" height="4.30" fill="#000"/>
<text x="354.7" y="324.7" font-size="7.6" text-anchor="start" font-weight="normal" fill="#111" stroke="#111" stroke-width="0.3" >Control</text>
<rect x="383.70" y="320.30" width="4.00" height="4.00" fill="url(#gL)" stroke="#222" stroke-width="0.7"/>
<text x="391" y="324.7" font-size="7.6" text-anchor="start" font-weight="normal" fill="#111" stroke="#111" stroke-width="0.3" textLength="35" lengthAdjust="spacing">0.01 µmol</text>
<rect x="430.40" y="320.30" width="4.00" height="4.00" fill="#333" stroke="#111" stroke-width="0.5"/>
<text x="437.4" y="324.7" font-size="7.6" text-anchor="start" font-weight="normal" fill="#111" stroke="#111" stroke-width="0.3" textLength="31.5" lengthAdjust="spacing">0.1 µmol</text>
<rect x="472.90" y="320.30" width="4.00" height="4.00" fill="#fff" stroke="#222" stroke-width="0.7"/>
<text x="480.4" y="324.7" font-size="7.6" text-anchor="start" font-weight="normal" fill="#111" stroke="#111" stroke-width="0.3" >1.0</text>
<text x="495.6" y="324.7" font-size="7.6" text-anchor="start" font-weight="normal" fill="#111" stroke="#111" stroke-width="0.3" textLength="18.4" lengthAdjust="spacing">µmol</text>
</svg>
</body></html>
